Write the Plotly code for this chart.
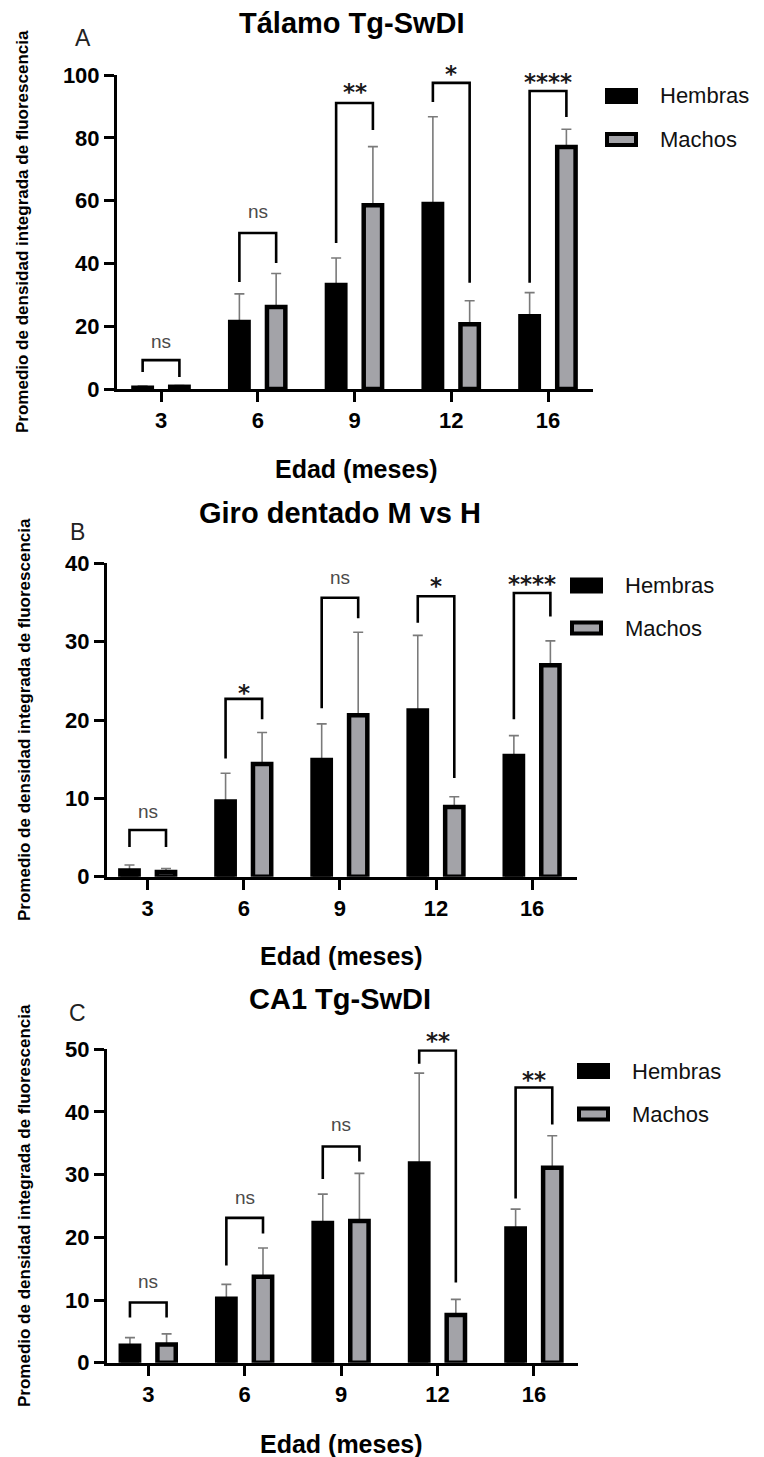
import plotly.graph_objects as go

# ---------------- DATA ----------------
categories = ["3", "6", "9", "12", "16"]

titles = ["Tálamo Tg-SwDI", "Giro dentado M vs H", "CA1 Tg-SwDI"]
letters = ["A", "B", "C"]
series_names = ["Hembras", "Machos"]
x_title = "Edad (meses)"
y_title = "Promedio de densidad integrada de fluorescencia"

hembras_A = [0.4, 21.3, 33.1, 58.9, 23.2]
hembras_A_err = [0.5, 9.0, 8.6, 27.8, 7.5]
machos_A = [0.7, 26.1, 58.5, 20.6, 77.1]
machos_A_err = [0.4, 10.7, 18.7, 7.5, 5.6]

hembras_B = [0.8, 9.6, 14.9, 21.2, 15.4]
hembras_B_err = [0.7, 3.6, 4.6, 9.6, 2.6]
machos_B = [0.6, 14.4, 20.6, 8.9, 27.0]
machos_B_err = [0.45, 4.0, 10.6, 1.3, 3.1]

hembras_C = [2.7, 10.2, 22.3, 31.8, 21.4]
hembras_C_err = [1.3, 2.3, 4.6, 14.4, 3.1]
machos_C = [2.9, 13.7, 22.6, 7.6, 31.1]
machos_C_err = [1.7, 4.6, 7.6, 2.5, 5.1]

# significance brackets: top level, left-leg end, right-leg end, label, label level
sig_top_A = [9.2, 49.7, 91.1, 97.5, 94.9]
sig_left_A = [5.4, 34.1, 46.5, 91.4, 33.8]
sig_right_A = [3.8, 40.1, 82.5, 33.8, 86.6]
sig_label_A = ["ns", "ns", "**", "*", "****"]
sig_label_y_A = [14.6, 56.0, 96.8, 102.5, 100.0]

sig_top_B = [5.96, 22.7, 35.6, 35.8, 36.2]
sig_left_B = [3.8, 15.1, 21.5, 32.4, 20.1]
sig_right_B = [3.8, 20.1, 33.0, 12.6, 33.2]
sig_label_B = ["ns", "*", "ns", "*", "****"]
sig_label_y_B = [8.1, 24.3, 37.9, 38.0, 38.2]

sig_top_C = [9.6, 23.1, 34.5, 49.8, 43.9]
sig_left_C = [7.2, 15.5, 29.3, 47.7, 26.2]
sig_right_C = [7.2, 20.6, 32.1, 12.8, 38.0]
sig_label_C = ["ns", "ns", "ns", "**", "**"]
sig_label_y_C = [12.7, 26.0, 37.7, 52.4, 46.2]

y_max = [100, 40, 50]
y_dtick = [20, 10, 10]

# ---------------- STYLE / LAYOUT ----------------
OFF = 0
W, H = 764, 1457


def PX(x):
    return (x - OFF) / W


def PY(y):
    return 1 - (y - OFF) / H


SANS = "Liberation Sans"
BLACK = "#000000"
GRAY_FILL = "#a3a3a8"
ERR_COL = "#7a7a7a"
BAR_W = 0.19
SHIFT = 0.19
LINE_W = 4.5

panels = [
    dict(h=hembras_A, he=hembras_A_err, m=machos_A, me=machos_A_err,
         top=sig_top_A, left=sig_left_A, right=sig_right_A, lab=sig_label_A, laby=sig_label_y_A,
         xd=(117, 593), yd=(75, 389), xr=(-0.455, 4.465),
         title_xy=(352, 23), letter_xy=(83, 38), xt_xy=(356, 469), yt_xy=(23, 232),
         leg_x=(605, 638), leg_y=(96, 139.5), leg_tx=658),
    dict(h=hembras_B, he=hembras_B_err, m=machos_B, me=machos_B_err,
         top=sig_top_B, left=sig_left_B, right=sig_right_B, lab=sig_label_B, laby=sig_label_y_B,
         xd=(107, 577), yd=(563.3, 876.7), xr=(-0.424, 4.467),
         title_xy=(340, 513), letter_xy=(77, 532), xt_xy=(341, 956), yt_xy=(24, 720),
         leg_x=(570, 603), leg_y=(585.5, 628), leg_tx=623),
    dict(h=hembras_C, he=hembras_C_err, m=machos_C, me=machos_C_err,
         top=sig_top_C, left=sig_left_C, right=sig_right_C, lab=sig_label_C, laby=sig_label_y_C,
         xd=(107, 578), yd=(1049.3, 1362.7), xr=(-0.428, 4.457),
         title_xy=(340, 999), letter_xy=(77, 1013), xt_xy=(341, 1444), yt_xy=(24, 1206),
         leg_x=(577, 610), leg_y=(1071, 1114), leg_tx=630),
]

fig = go.Figure()
shapes = []
annotations = []
idx = list(range(len(categories)))

for k, p in enumerate(panels):
    n = "" if k == 0 else str(k + 1)
    xa, ya = "x" + n, "y" + n
    for vals, errs, off, fill, name in (
        (p["h"], p["he"], -SHIFT, BLACK, series_names[0]),
        (p["m"], p["me"], SHIFT, GRAY_FILL, series_names[1]),
    ):
        # error bars (carried by an invisible copy drawn underneath the bars)
        fig.add_trace(go.Bar(
            x=idx, y=vals, width=BAR_W, offset=off - BAR_W / 2,
            marker=dict(color="rgba(0,0,0,0)", line=dict(width=0)),
            error_y=dict(type="data", symmetric=False, array=errs, arrayminus=[0] * len(errs),
                         color=ERR_COL, thickness=1.6, width=5),
            showlegend=False, hoverinfo="skip", xaxis=xa, yaxis=ya))
        fig.add_trace(go.Bar(
            x=idx, y=vals, width=BAR_W, offset=off - BAR_W / 2,
            marker=dict(color=fill, line=dict(color=BLACK, width=LINE_W)),
            name=name, showlegend=False, xaxis=xa, yaxis=ya))

    axis_common = dict(showgrid=False, zeroline=False, showline=True, linewidth=3,
                       linecolor=BLACK, ticks="outside", ticklen=10, tickwidth=3,
                       tickcolor=BLACK, automargin=False,
                       tickfont=dict(family=SANS, size=22, color=BLACK, weight="bold"))
    fig.layout["xaxis" + n] = dict(
        axis_common, domain=[PX(p["xd"][0]), PX(p["xd"][1])], range=list(p["xr"]),
        tickmode="array", tickvals=idx, ticktext=categories, anchor=ya, fixedrange=True)
    fig.layout["yaxis" + n] = dict(
        axis_common, domain=[PY(p["yd"][1]), PY(p["yd"][0])], range=[0, y_max[k]],
        tickmode="linear", tick0=0, dtick=y_dtick[k], anchor=xa, fixedrange=True)

    # significance brackets
    for i in idx:
        xl, xr_ = i - SHIFT, i + SHIFT
        shapes.append(dict(
            type="path", xref=xa, yref=ya,
            path=f"M {xl},{p['left'][i]} L {xl},{p['top'][i]} L {xr_},{p['top'][i]} L {xr_},{p['right'][i]}",
            line=dict(color=BLACK, width=2.6)))
        lab = p["lab"][i]
        ydom = p["laby"][i] / y_max[k]
        if lab == "ns":
            annotations.append(dict(
                x=i, y=ydom, xref=xa, yref=ya + " domain", text=lab, showarrow=False,
                yanchor="middle", yshift=2,
                font=dict(family=SANS, size=19, color="#4a4a4a")))
        else:
            annotations.append(dict(
                x=i, y=ydom, xref=xa, yref=ya + " domain", text=lab, showarrow=False,
                yanchor="middle", yshift=-7,
                font=dict(family="DejaVu Sans", size=23, color="#1a1a1a", weight="bold")))

    # titles / labels
    annotations.append(dict(x=PX(p["title_xy"][0]), y=PY(p["title_xy"][1]), xref="paper", yref="paper",
                            text=titles[k], showarrow=False, xanchor="center", yanchor="middle",
                            font=dict(family=SANS, size=29, color=BLACK, weight="bold")))
    annotations.append(dict(x=PX(p["letter_xy"][0]), y=PY(p["letter_xy"][1]), xref="paper", yref="paper",
                            text=letters[k], showarrow=False, xanchor="center", yanchor="middle",
                            font=dict(family=SANS, size=23, color="#222222")))
    annotations.append(dict(x=PX(p["xt_xy"][0]), y=PY(p["xt_xy"][1]), xref="paper", yref="paper",
                            text=x_title, showarrow=False, xanchor="center", yanchor="middle",
                            font=dict(family=SANS, size=25, color=BLACK, weight="bold")))
    annotations.append(dict(x=PX(p["yt_xy"][0]), y=PY(p["yt_xy"][1]), xref="paper", yref="paper",
                            text=y_title, showarrow=False, xanchor="center", yanchor="middle",
                            textangle=-90,
                            font=dict(family=SANS, size=17, color=BLACK, weight="bold")))

    # legend (drawn manually to match the large swatches)
    lx0, lx1 = p["leg_x"]
    hy, my = p["leg_y"]
    shapes.append(dict(type="rect", xref="paper", yref="paper",
                       x0=PX(lx0), x1=PX(lx1), y0=PY(hy + 8), y1=PY(hy - 8),
                       fillcolor=BLACK, line=dict(width=0)))
    shapes.append(dict(type="rect", xref="paper", yref="paper",
                       x0=PX(lx0 + 2), x1=PX(lx1 - 2), y0=PY(my + 5.5), y1=PY(my - 5.5),
                       fillcolor=GRAY_FILL, line=dict(color=BLACK, width=4)))
    for name, yy in zip(series_names, (hy, my)):
        annotations.append(dict(x=PX(p["leg_tx"]), y=PY(yy), xref="paper", yref="paper",
                                text=name, showarrow=False, xanchor="left", yanchor="middle",
                                font=dict(family=SANS, size=22, color="#111111")))

fig.update_layout(
    width=W, height=H, margin=dict(l=0, r=0, t=0, b=0, pad=0),
    template="none", paper_bgcolor="white", plot_bgcolor="white",
    barmode="overlay", showlegend=False,
    shapes=shapes, annotations=annotations,
)

fig.write_html("out.html", config={"staticPlot": True, "displayModeBar": False},
               post_script="document.body.style.margin='0';document.body.style.overflow='hidden';")
